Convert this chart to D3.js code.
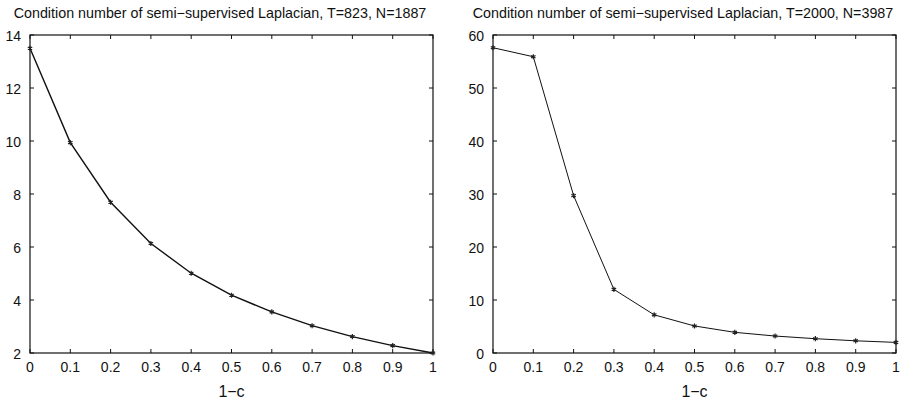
<!DOCTYPE html>
<html>
<head>
<meta charset="utf-8">
<script src="https://cdn.jsdelivr.net/npm/d3@7"></script>
<style>
  body { margin: 0; background: #fff; }
  svg text { font-family: "Liberation Sans", Arial, sans-serif; fill: #111; }
</style>
</head>
<body>
<svg id="chart" width="902" height="402"></svg>
<script>
// values
var xTicks = [0, 0.1, 0.2, 0.3, 0.4, 0.5, 0.6, 0.7, 0.8, 0.9, 1];
var xValues = [0, 0.1, 0.2, 0.3, 0.4, 0.5, 0.6, 0.7, 0.8, 0.9, 1];
var leftValues = [13.5, 9.94, 7.69, 6.13, 5.01, 4.18, 3.55, 3.03, 2.62, 2.28, 2.0];
var rightValues = [57.6, 55.9, 29.7, 12.0, 7.2, 5.1, 3.9, 3.2, 2.7, 2.3, 2.0];
var leftYTicks = [2, 4, 6, 8, 10, 12, 14];
var rightYTicks = [0, 10, 20, 30, 40, 50, 60];
var titles = ["Condition number of semi\u2212supervised Laplacian, T=823, N=1887",
              "Condition number of semi\u2212supervised Laplacian, T=2000, N=3987"];
var xLabel = "1\u2212c";

var svg = d3.select("#chart");

function drawPanel(opts){
    var x = d3.scaleLinear().domain([0, 1]).range([opts.left, opts.right]);
    var y = d3.scaleLinear().domain(opts.yDomain).range([353, 35]);
    var g = svg.append("g");

    // frame
    g.append("rect")
        .attr("x", opts.left).attr("y", 35)
        .attr("width", opts.right - opts.left).attr("height", 318)
        .attr("fill", "none").attr("stroke", "#111").attr("stroke-width", 1.2);

    // ticks inside on all four sides
    var tl = 4;
    xTicks.forEach(function(t){
        g.append("line").attr("x1", x(t)).attr("x2", x(t)).attr("y1", 353).attr("y2", 353 - tl)
            .attr("stroke", "#111");
        g.append("line").attr("x1", x(t)).attr("x2", x(t)).attr("y1", 35).attr("y2", 35 + tl)
            .attr("stroke", "#111");
        g.append("text").attr("x", x(t)).attr("y", 372)
            .attr("text-anchor", "middle").attr("font-size", 14).text(t);
    });
    opts.yTicks.forEach(function(t){
        g.append("line").attr("x1", opts.left).attr("x2", opts.left + tl).attr("y1", y(t)).attr("y2", y(t))
            .attr("stroke", "#111");
        g.append("line").attr("x1", opts.right).attr("x2", opts.right - tl).attr("y1", y(t)).attr("y2", y(t))
            .attr("stroke", "#111");
        g.append("text").attr("x", opts.left - 9).attr("y", y(t) + 5.5)
            .attr("text-anchor", "end").attr("font-size", 14).text(t);
    });

    var line = d3.line()
        .x(function(d, i){ return x(xValues[i]); })
        .y(function(d){ return y(d); });
    g.append("path").datum(opts.values)
        .attr("d", line).attr("fill", "none")
        .attr("stroke", "#111").attr("stroke-width", opts.lw);

    // asterisk markers
    var star = d3.symbol().type(d3.symbolAsterisk).size(18);
    g.selectAll(".mk").data(opts.values).enter().append("path")
        .attr("d", star)
        .attr("transform", function(d, i){ return "translate(" + x(xValues[i]) + "," + y(d) + ")"; })
        .attr("fill", "none").attr("stroke", "#222").attr("stroke-width", 1.2);

    g.append("text").attr("x", opts.titleX).attr("y", 18)
        .attr("text-anchor", "middle").attr("font-size", 14.3).text(opts.title);
    g.append("text").attr("x", (opts.left + opts.right) / 2).attr("y", 397)
        .attr("text-anchor", "middle").attr("font-size", 16).text(xLabel);
}

drawPanel({left: 30, right: 433, yDomain: [2, 14], yTicks: leftYTicks, values: leftValues,
           lw: 1.4, title: titles[0], titleX: 220});
drawPanel({left: 493, right: 896, yDomain: [0, 60], yTicks: rightYTicks, values: rightValues,
           lw: 1, title: titles[1], titleX: 683});
</script>
</body>
</html>
